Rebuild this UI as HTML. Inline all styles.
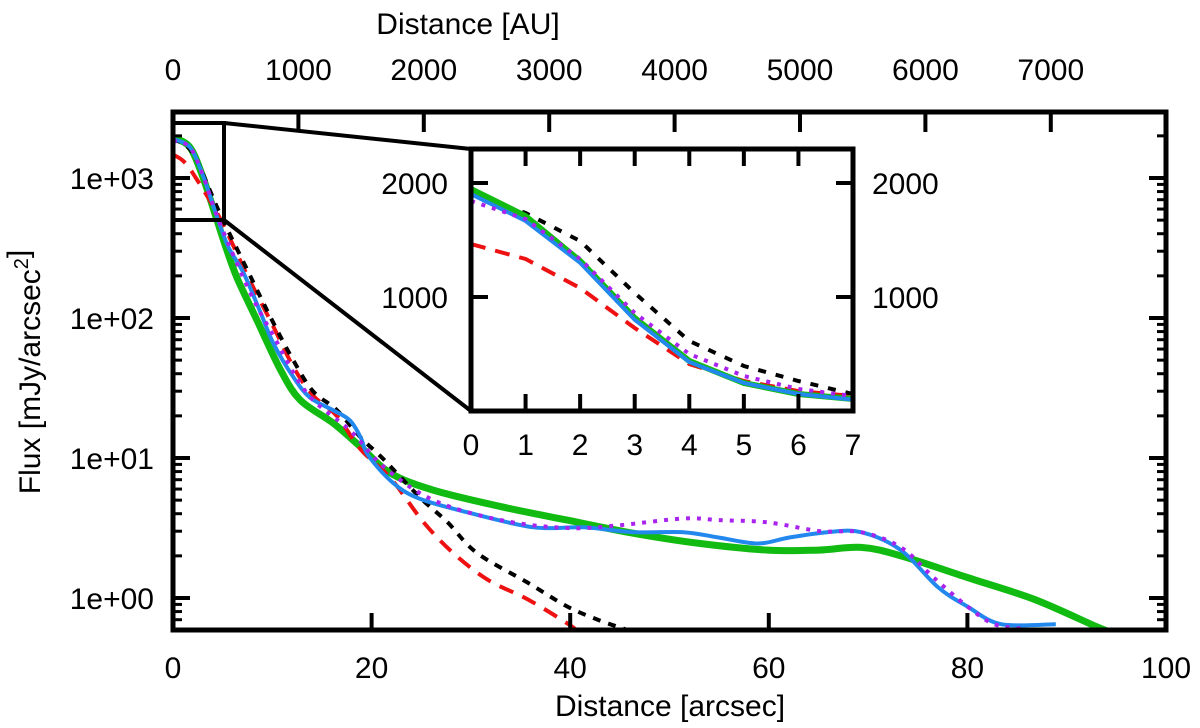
<!DOCTYPE html>
<html><head><meta charset="utf-8"><style>
html,body{margin:0;padding:0;background:#fff}
svg{display:block;font-family:"Liberation Sans",Arial,sans-serif}
</style></head><body>
<svg id="chart" width="1200" height="728" viewBox="0 0 1200 728" xmlns="http://www.w3.org/2000/svg">
<defs>
<clipPath id="mainclip"><rect x="173" y="112" width="993" height="518"/></clipPath>
<clipPath id="insetclip"><rect x="471" y="149" width="382" height="262"/></clipPath>
</defs>
<g id="main"></g>
<g id="inset"></g>
<text x="670" y="716" font-size="30" text-anchor="middle">Distance [arcsec]</text>
<text x="468" y="34" font-size="30" text-anchor="middle">Distance [AU]</text>
<text transform="translate(40,372) rotate(-90)" font-size="30" text-anchor="middle">Flux [mJy/arcsec<tspan font-size="20" dy="-12">2</tspan><tspan dy="12"></tspan>]</text>
</svg>
<script>
// ---- main chart data (x in arcsec, flux in mJy/arcsec^2) ----
const greenX = [0,1.7,3,4.2,5.4,6.5,8.5,10.8,12.8,16.1,18.9,21.9,26.2,33,39.7,46.4,53.1,59.9,65,69.3,73.3,80,86.7,93.1,95];
const greenY = [1950,1660,1020,562,309,190,95,43,26,17.8,12,7.8,5.9,4.5,3.6,2.9,2.45,2.2,2.2,2.3,2.0,1.4,0.98,0.62,0.55];
const blueX = [0,1.7,3,4.2,5.5,7.1,8.8,10.1,12.1,13.8,16.1,17.8,18.9,19.6,21.9,24.6,29.6,36.3,41.3,46.4,51.4,55,58.9,62,65.9,69.3,73.3,77,80,83.4,88.9];
const blueY = [1900,1660,1050,590,330,210,110,66,38,27,22,18.6,14,10.6,6.9,5.2,4.1,3.2,3.2,2.95,2.95,2.7,2.45,2.7,2.95,2.95,2.2,1.2,0.87,0.65,0.65];
const purpleX = [0,1.7,3,4.7,7.8,10.1,13.5,17.8,21.2,26.2,33,39.7,44.8,51.4,55,59.9,65.2,69.3,73.3,76.6,80,82.7,86];
const purpleY = [1850,1660,1050,480,150,75,29,15.8,8.7,5.0,3.6,3.16,3.3,3.7,3.6,3.47,3.0,2.95,2.3,1.4,0.87,0.65,0.6];
const blackX = [0,2,4.7,7.5,9.8,12.1,14.1,16.5,18.9,21.2,24.9,27.6,30.6,35.7,39.7,43,45.8,48];
const blackY = [1900,1500,562,219,102,50,30,22,14,9.8,5.2,3.5,2.1,1.29,0.87,0.69,0.59,0.52];
const redX = [0,1,2,4.7,7.5,10,12.1,14.1,16.5,18.9,21.9,25.2,28.2,31.7,35.7,39.7,41];
const redY = [1470,1330,1080,520,200,90,45,28,20,11.5,7.2,3.5,2.1,1.35,0.98,0.66,0.56];
const xTicks = [0,20,40,60,80,100];
const yTicks = [1,10,100,1000];
const yTickLabels = ["1e+00","1e+01","1e+02","1e+03"];
const auTicks = [0,1000,2000,3000,4000,5000,6000,7000];
// ---- inset data (x in arcsec, linear flux) ----
const insetX = [0,1,2,3,4,5,6,7];
const insetGreen = [1947,1710,1316,816,439,246,149,105];
const insetBlue = [1903,1667,1300,800,430,246,149,100];
const insetPurple = [1842,1684,1333,860,500,307,193,132];
const insetBlack = [1900,1737,1491,1035,614,395,263,149];
const insetRed = [1465,1333,1079,728,412,263,175,132];
const insetYTicks = [1000,2000];

const NS = "http://www.w3.org/2000/svg";
const L = 173, R = 1166, T = 112, B = 630;
const xs = v => L + v * (R - L) / 100;
const ys = v => 178 - 140 * Math.log10(v / 1000);
const auPx = v => L + v * 0.1254;
const IL = 471, IR = 853, IT = 149, IB = 411;
const ixs = v => IL + v * (IR - IL) / 7;
const iys = v => IB - v * 0.114;

function el(tag, attrs, parent){
  const e = document.createElementNS(NS, tag);
  for (const k in attrs) e.setAttribute(k, attrs[k]);
  parent.appendChild(e);
  return e;
}
function smoothPath(P){
  let d = "M" + P[0][0].toFixed(1) + "," + P[0][1].toFixed(1);
  for (let i=0;i<P.length-1;i++){
    const p0 = P[i-1]||P[i], p1 = P[i], p2 = P[i+1], p3 = P[i+2]||P[i+1];
    const c1 = [p1[0]+(p2[0]-p0[0])/6, p1[1]+(p2[1]-p0[1])/6];
    const c2 = [p2[0]-(p3[0]-p1[0])/6, p2[1]-(p3[1]-p1[1])/6];
    d += " C" + c1[0].toFixed(1)+","+c1[1].toFixed(1)+" "+c2[0].toFixed(1)+","+c2[1].toFixed(1)+" "+p2[0].toFixed(1)+","+p2[1].toFixed(1);
  }
  return d;
}
const main = document.getElementById('main');
const inset = document.getElementById('inset');

const series = [
  {x:greenX,y:greenY,c:"#11bb11",w:7,d:"",n:"green-series-line"},
  {x:redX,y:redY,c:"#ee1111",w:4,d:"15,10",n:"red-series-line"},
  {x:blackX,y:blackY,c:"#000",w:4,d:"8,8",n:"black-series-line"},
  {x:blueX,y:blueY,c:"#2288ee",w:4,d:"",n:"blue-series-line"},
  {x:purpleX,y:purpleY,c:"#aa22ee",w:4,d:"4,7",n:"purple-series-line"}
];
const mg = el('g',{'clip-path':'url(#mainclip)'},main);
series.forEach(s=>{
  const P = s.x.map((v,i)=>[xs(v), ys(s.y[i])]);
  const p = el('path',{d:smoothPath(P),fill:"none",stroke:s.c,'stroke-width':s.w,'stroke-dasharray':s.d,'stroke-linejoin':'round'},mg);
  
  
});

xTicks.forEach(v=>{
  if(v>0 && v<100){
    el('line',{x1:xs(v),x2:xs(v),y1:B,y2:B-17,stroke:"#000",'stroke-width':4},main);
  }
  const t = el('text',{x:xs(v),y:678,'font-size':30,'text-anchor':'middle'},main);
  t.textContent = v;
  
  
});
auTicks.forEach(v=>{
  if(v>0) el('line',{x1:auPx(v),x2:auPx(v),y1:T,y2:T+20,stroke:"#000",'stroke-width':4},main);
  const t = el('text',{x:auPx(v),y:80,'font-size':30,'text-anchor':'middle'},main);
  t.textContent = v;
  
  
});
yTicks.forEach((v,i)=>{
  el('line',{x1:L,x2:L+17,y1:ys(v),y2:ys(v),stroke:"#000",'stroke-width':4},main);
  el('line',{x1:R,x2:R-17,y1:ys(v),y2:ys(v),stroke:"#000",'stroke-width':4},main);
  const t = el('text',{x:154,y:ys(v)+11,'font-size':30,'text-anchor':'end'},main);
  t.textContent = yTickLabels[i];
  
  
});
[0.1,1,10,100,1000].forEach(d=>{
  for(let m=2;m<=9;m++){
    const yy = ys(d*m);
    if(yy>T+2 && yy<B-2){
      el('line',{x1:L,x2:L+9,y1:yy,y2:yy,stroke:"#000",'stroke-width':3},main);
      el('line',{x1:R,x2:R-9,y1:yy,y2:yy,stroke:"#000",'stroke-width':3},main);
    }
  }
});
const frame = el('rect',{x:L,y:T,width:R-L,height:B-T,fill:"none",stroke:"#000",'stroke-width':5},main);



const zr = el('polyline',{points:`${L},123 224,123 224,220 ${L},220`,fill:"none",stroke:"#000",'stroke-width':4},main);


const c1 = el('line',{x1:224,y1:123,x2:IL,y2:IT,stroke:"#000",'stroke-width':4},main);


const c2 = el('line',{x1:224,y1:220,x2:IL,y2:IB,stroke:"#000",'stroke-width':4},main);



el('rect',{x:IL,y:IT,width:IR-IL,height:IB-IT,fill:"#fff"},inset);
const ig = el('g',{'clip-path':'url(#insetclip)'},inset);
const iseries = [
  {y:insetRed,c:"#ee1111",w:4,d:"15,10",n:"inset-red-line"},
  {y:insetBlack,c:"#000",w:4,d:"8,10",n:"inset-black-line"},
  {y:insetGreen,c:"#11bb11",w:6,d:"",n:"inset-green-line"},
  {y:insetBlue,c:"#2288ee",w:4,d:"",n:"inset-blue-line"},
  {y:insetPurple,c:"#aa22ee",w:4,d:"4,7",n:"inset-purple-line"}
];
iseries.forEach(s=>{
  const pts = insetX.map((v,i)=>ixs(v).toFixed(1)+","+iys(s.y[i]).toFixed(1)).join(" ");
  const p = el('polyline',{points:pts,fill:"none",stroke:s.c,'stroke-width':s.w,'stroke-dasharray':s.d},ig);
  
  
});
insetX.forEach(v=>{
  if(v>0 && v<7){
    el('line',{x1:ixs(v),x2:ixs(v),y1:IB,y2:IB-17,stroke:"#000",'stroke-width':4},inset);
    el('line',{x1:ixs(v),x2:ixs(v),y1:IT,y2:IT+17,stroke:"#000",'stroke-width':4},inset);
  }
  const t = el('text',{x:ixs(v),y:455,'font-size':30,'text-anchor':'middle'},inset);
  t.textContent = v;
  
  
});
insetYTicks.forEach(v=>{
  el('line',{x1:IL,x2:IL+17,y1:iys(v),y2:iys(v),stroke:"#000",'stroke-width':4},inset);
  el('line',{x1:IR,x2:IR-17,y1:iys(v),y2:iys(v),stroke:"#000",'stroke-width':4},inset);
  const t = el('text',{x:448,y:iys(v)+11,'font-size':30,'text-anchor':'end'},inset);
  t.textContent = v;
  
  
  const t2 = el('text',{x:872,y:iys(v)+11,'font-size':30,'text-anchor':'start'},inset);
  t2.textContent = v;
  
  
});
const iframe = el('rect',{x:IL,y:IT,width:IR-IL,height:IB-IT,fill:"none",stroke:"#000",'stroke-width':5},inset);


</script>
</body></html>
